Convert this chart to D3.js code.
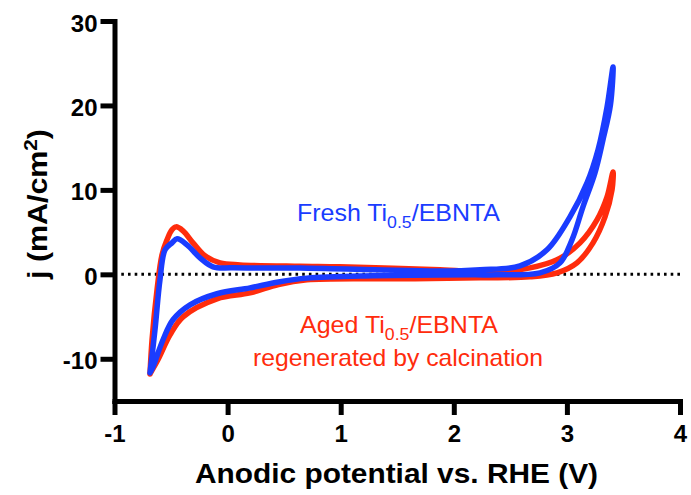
<!DOCTYPE html>
<html>
<head>
<meta charset="utf-8">
<script src="https://cdn.jsdelivr.net/npm/d3@7"></script>
<style>
  body { margin: 0; background: #fff; }
  svg { display: block; font-family: "Liberation Sans", Arial, Helvetica, sans-serif; }
</style>
</head>
<body>
<svg id="chart" width="691" height="495"></svg>
<script>
// ---- data ----
var xTicks = [-1, 0, 1, 2, 3, 4];
var yTicks = [-10, 0, 10, 20, 30];

// fresh Ti0.5/EBNTA, one closed CV loop (V vs RHE, mA/cm2)
var freshV = [-0.686, -0.642, -0.598, -0.553, -0.492, -0.447, -0.359, -0.244, -0.129, 0.048, 0.64, 1.3, 1.878, 2.232, 2.585, 2.824, 3.027, 3.178, 3.275, 3.355, 3.408,
  3.385, 3.319, 3.248, 3.142, 3.045, 2.939, 2.762, 2.382, 2.17, 1.285, 0.702, 0.45, 0.198, -0.094, -0.332, -0.483, -0.571, -0.66, -0.686];
var freshJ = [-11.66, -6.57, -0.65, 2.90, 3.73, 4.20, 3.49, 1.95, 0.89, 0.77, 0.75, 0.55, 0.40, 0.55, 1.0, 2.9, 6.80, 10.83, 14.73, 19.82, 24.56,
  20.06, 15.92, 12.01, 7.99, 4.08, 1.36, 0.18, -0.06, -0.06, -0.18, -0.45, -0.9, -1.6, -2.3, -3.61, -5.38, -7.75, -10.95, -11.66];

// aged Ti0.5/EBNTA regenerated by calcination
var agedV = [-0.686, -0.668, -0.624, -0.58, -0.536, -0.492, -0.456, -0.394, -0.306, -0.2, -0.067, 0.11, 0.64, 0.994, 1.878, 2.382, 2.674, 2.913, 3.116, 3.266, 3.355, 3.408,
  3.399, 3.337, 3.231, 3.089, 2.913, 2.674, 2.232, 1.524, 0.702, 0.45, 0.198, -0.094, -0.394, -0.509, -0.616, -0.686];
var agedJ = [-11.78, -7.75, -1.83, 2.31, 4.08, 5.27, 5.62, 5.15, 3.73, 2.19, 1.36, 1.12, 0.95, 0.89, 0.53, 0.30, 0.77, 1.72, 3.73, 6.45, 9.17, 12.13,
  10.0, 6.80, 3.73, 1.36, 0.18, -0.30, -0.41, -0.53, -0.65, -1.2, -2.2, -2.9, -5.03, -7.16, -10.12, -11.78];

var BLUE = '#1a3cff';
var RED = '#ff2c0c';

var svg = d3.select('#chart');

var x = d3.scaleLinear().domain([-1, 4]).range([114.5, 680]);
var y = d3.scaleLinear().domain([-15, 30]).range([401, 21]);

// zero line, dotted
svg.append('line')
  .attr('x1', x(-0.94)).attr('x2', x(4))
  .attr('y1', y(0)).attr('y2', y(0))
  .attr('stroke', '#000')
  .attr('stroke-width', 3)
  .attr('stroke-dasharray', '2.6,4.1');

var line = d3.line()
  .x(function (d) { return x(d[0]); })
  .y(function (d) { return y(d[1]); })
  .curve(d3.curveCatmullRom.alpha(0.5));

function zip(a, b) {
  return a.map(function (v, i) { return [v, b[i]]; });
}

svg.append('path')
  .datum(zip(agedV, agedJ))
  .attr('d', line)
  .attr('fill', 'none')
  .attr('stroke', RED)
  .attr('stroke-width', 5.5)
  .attr('stroke-linejoin', 'round')
  .attr('stroke-linecap', 'round');

svg.append('path')
  .datum(zip(freshV, freshJ))
  .attr('d', line)
  .attr('fill', 'none')
  .attr('stroke', BLUE)
  .attr('stroke-width', 5.5)
  .attr('stroke-linejoin', 'round')
  .attr('stroke-linecap', 'round');

// axes
var fmt = function (d) { return String(d); }; // plain hyphen minus like the reference

var yAxis = svg.append('g')
  .attr('transform', 'translate(' + x(-1) + ',0)')
  .call(d3.axisLeft(y).tickValues(yTicks).tickFormat(fmt).tickSize(14).tickSizeOuter(0).tickPadding(3));

var xAxis = svg.append('g')
  .attr('transform', 'translate(0,' + y(-15) + ')')
  .call(d3.axisBottom(x).tickValues(xTicks).tickFormat(fmt).tickSize(14).tickSizeOuter(0).tickPadding(10));

[yAxis, xAxis].forEach(function (g) {
  g.select('.domain').attr('stroke', '#000').attr('stroke-width', 5).attr('stroke-linecap', 'square');
  g.selectAll('.tick line').attr('stroke', '#000').attr('stroke-width', 5);
  g.selectAll('.tick text')
    .attr('fill', '#000')
    .style('font-size', '24px')
    .style('font-weight', 'bold')
    .style('font-family', '"Liberation Sans", Arial, sans-serif');
});
yAxis.selectAll('.tick text').attr('dy', '0.42em');

// axis titles
svg.append('text')
  .attr('x', 396.5)
  .attr('y', 483)
  .attr('text-anchor', 'middle')
  .attr('textLength', 403)
  .attr('lengthAdjust', 'spacingAndGlyphs')
  .style('font-size', '28px')
  .style('font-weight', 'bold')
  .text('Anodic potential vs. RHE (V)');

var yt = svg.append('text')
  .attr('transform', 'translate(47,204) rotate(-90)')
  .attr('text-anchor', 'middle')
  .attr('textLength', 150)
  .attr('lengthAdjust', 'spacingAndGlyphs')
  .style('font-size', '28px')
  .style('font-weight', 'bold');
yt.append('tspan').text('j (mA/cm');
yt.append('tspan').attr('dy', -10).style('font-size', '19px').text('2');
yt.append('tspan').attr('dy', 10).text(')');

// annotations
function label(cx, by, parts, color, len) {
  var t = svg.append('text')
    .attr('x', cx)
    .attr('y', by)
    .attr('text-anchor', 'middle')
    .attr('fill', color)
    .style('font-size', '24px');
  if (len) t.attr('textLength', len).attr('lengthAdjust', 'spacingAndGlyphs');
  parts.forEach(function (p) {
    var s = t.append('tspan').text(p.t);
    if (p.sub) s.attr('dy', 7).style('font-size', '17px');
    if (p.back) s.attr('dy', -7);
  });
  return t;
}

label(398.5, 221, [{ t: 'Fresh Ti' }, { t: '0.5', sub: true }, { t: '/EBNTA', back: true }], BLUE, 203);
label(399, 333, [{ t: 'Aged Ti' }, { t: '0.5', sub: true }, { t: '/EBNTA', back: true }], RED, 198);
label(398, 366, [{ t: 'regenerated by calcination' }], RED, 290);
</script>
</body>
</html>
